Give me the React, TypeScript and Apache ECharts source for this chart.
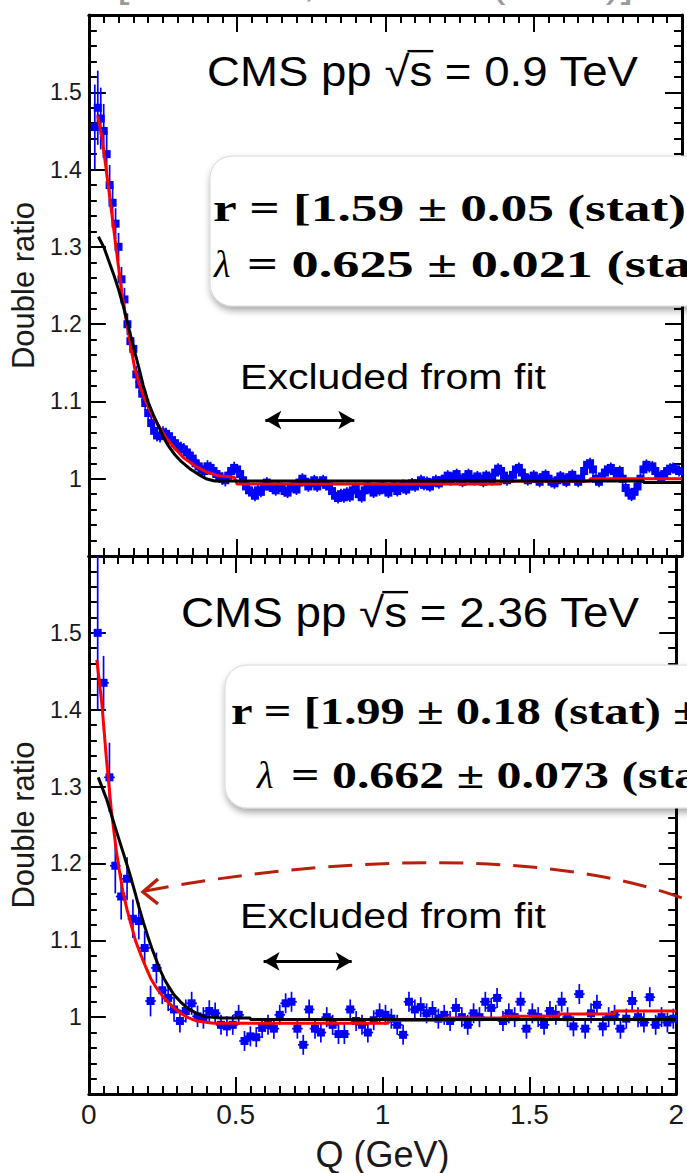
import React, { useEffect, useRef } from 'react';
import * as echarts from 'echarts';

// ---------- data ----------
const topQStart = 0.02;
const topQStep = 0.01;
const topRatio = [
  1.455, 1.48, 1.466, 1.45, 1.42, 1.38, 1.357, 1.33,
  1.30, 1.258, 1.232, 1.2, 1.178, 1.168, 1.135, 1.122, 1.11, 1.098,
  1.085, 1.072, 1.062, 1.056, 1.055, 1.06, 1.058, 1.055, 1.05, 1.046,
  1.042, 1.04, 1.038, 1.034, 1.03, 1.026, 1.02, 1.016, 1.012, 1.01,
  1.016, 1.014, 1.01, 1.006, 1.003, 1.0, 0.998, 1.004, 1.01, 1.014,
  1.012, 1.006, 0.998, 0.99, 0.985, 0.982, 0.978, 0.985, 0.983, 0.99,
  0.995, 0.99, 0.988, 0.985, 0.99, 0.988, 0.984, 0.982, 0.988, 0.99,
  0.986, 0.995, 1.0, 0.996, 0.99, 0.994, 0.998, 0.99, 0.995, 0.998,
  0.992, 0.99, 0.984, 0.978, 0.975, 0.98, 0.976, 0.982, 0.977, 0.985,
  0.988, 0.98, 0.976, 0.985, 0.99, 0.986, 0.982, 0.988, 0.985, 0.99,
  0.986, 0.982, 0.988, 0.99, 0.984, 0.988, 0.992, 0.986, 0.99, 0.994,
  0.99, 0.994, 0.998, 0.992, 0.996, 0.99, 0.995, 0.998, 0.994, 0.998,
  1.0, 1.004, 0.998, 1.003, 1.006, 1.0, 0.996, 1.002, 1.006, 1.0,
  0.998, 1.003, 1.0, 0.996, 1.004, 1.002, 0.998, 1.008, 1.013, 1.01,
  1.004, 0.998, 1.0, 1.005, 1.012, 1.014, 1.008, 1.002, 0.998, 1.0,
  1.004, 1.0, 0.996, 1.002, 1.005, 1.0, 0.996, 0.994, 0.998, 1.003,
  1.0, 0.996, 1.002, 1.005, 1.0, 0.996, 1.0, 1.01, 1.018, 1.02,
  1.012, 1.0, 0.996, 1.003, 1.008, 1.012, 1.014, 1.01, 1.006, 1.01,
  1.0, 0.988, 0.982, 0.978, 0.983, 0.99, 1.0, 1.012, 1.018, 1.015,
  1.016, 1.01, 1.004, 1.0, 1.006, 1.01, 1.013, 1.014, 1.012, 1.01,
];
const topErr = [
  0.055, 0.048, 0.04, 0.035, 0.03, 0.026, 0.022, 0.02,
  0.018, 0.016, 0.015, 0.014, 0.013, 0.012, 0.011, 0.011, 0.01, 0.01,
  0.009, 0.009, 0.009, 0.008, 0.008, 0.008, 0.008, 0.008, 0.008, 0.008,
  0.008, 0.008, 0.008, 0.008, 0.008, 0.008, 0.008, 0.008, 0.008, 0.008,
  0.008, 0.008, 0.008, 0.008, 0.008, 0.008, 0.008, 0.008, 0.008, 0.008,
  0.007, 0.007, 0.007, 0.007, 0.007, 0.007, 0.007, 0.007, 0.007, 0.007,
  0.007, 0.007, 0.007, 0.007, 0.007, 0.007, 0.007, 0.007, 0.007, 0.007,
  0.007, 0.007, 0.007, 0.007, 0.007, 0.007, 0.007, 0.007, 0.007, 0.007,
  0.007, 0.007, 0.007, 0.007, 0.007, 0.007, 0.007, 0.007, 0.007, 0.007,
  0.007, 0.007, 0.007, 0.007, 0.007, 0.007, 0.007, 0.007, 0.007, 0.007,
  0.007, 0.007, 0.007, 0.007, 0.007, 0.007, 0.007, 0.007, 0.007, 0.007,
  0.007, 0.007, 0.007, 0.007, 0.007, 0.007, 0.007, 0.007, 0.007, 0.007,
  0.007, 0.007, 0.007, 0.007, 0.007, 0.007, 0.007, 0.007, 0.007, 0.007,
  0.007, 0.007, 0.007, 0.007, 0.007, 0.007, 0.007, 0.007, 0.007, 0.007,
  0.007, 0.007, 0.007, 0.007, 0.007, 0.007, 0.007, 0.007, 0.007, 0.007,
  0.007, 0.007, 0.007, 0.007, 0.007, 0.007, 0.007, 0.007, 0.007, 0.007,
  0.007, 0.007, 0.007, 0.007, 0.007, 0.007, 0.007, 0.007, 0.007, 0.007,
  0.007, 0.007, 0.007, 0.007, 0.007, 0.007, 0.007, 0.007, 0.007, 0.007,
  0.007, 0.007, 0.007, 0.007, 0.007, 0.007, 0.007, 0.007, 0.007, 0.007,
  0.007, 0.007, 0.007, 0.007, 0.007, 0.007, 0.007, 0.007, 0.007, 0.007,
];
const topHalfBin = 0.006;

const botQStart = 0.03;
const botQStep = 0.02;
const botRatio = [
  1.5, 1.435, 1.312, 1.197, 1.157, 1.18, 1.128, 1.125, 1.09, 1.021,
  1.064, 1.035, 1.025, 1.01, 0.995, 1.008, 1.018, 1.001, 0.999, 1.008,
  1.005, 0.99, 0.988, 0.99, 1.003, 0.969, 0.975, 0.974, 0.986, 0.99,
  0.985, 1.003, 1.018, 1.02, 0.985, 0.964, 1.01, 0.985, 0.98, 1.0,
  0.99, 0.978, 0.978, 1.01, 0.995, 0.99, 0.98, 0.996, 1.005, 1.003,
  0.998, 0.99, 0.977, 1.02, 1.01, 1.013, 1.005, 1.008, 0.998, 1.003,
  0.995, 1.012, 1.0, 0.99, 1.005, 1.0, 1.02, 1.012, 1.025, 0.995,
  1.005, 1.0, 1.02, 0.985, 1.005, 1.0, 0.99, 1.008, 1.003, 1.02,
  1.0, 0.988, 1.03, 0.985, 1.005, 1.016, 0.988, 1.0, 1.003, 0.985,
  0.998, 1.021, 1.0, 0.993, 1.026, 0.99, 1.0, 0.993, 0.998,
];
const botErr = [
  0.1, 0.035, 0.045, 0.036, 0.03, 0.028, 0.025, 0.024, 0.022, 0.02,
  0.02, 0.018, 0.017, 0.016, 0.015, 0.015, 0.015, 0.014, 0.014, 0.014,
  0.014, 0.013, 0.013, 0.013, 0.013, 0.013, 0.013, 0.013, 0.013, 0.013,
  0.013, 0.013, 0.013, 0.013, 0.013, 0.013, 0.013, 0.013, 0.013, 0.013,
  0.013, 0.013, 0.013, 0.013, 0.013, 0.013, 0.013, 0.013, 0.013, 0.013,
  0.013, 0.013, 0.013, 0.013, 0.013, 0.013, 0.013, 0.013, 0.013, 0.013,
  0.013, 0.013, 0.013, 0.013, 0.013, 0.013, 0.013, 0.013, 0.013, 0.013,
  0.013, 0.013, 0.013, 0.013, 0.013, 0.013, 0.013, 0.013, 0.013, 0.013,
  0.013, 0.013, 0.013, 0.013, 0.013, 0.013, 0.013, 0.013, 0.013, 0.013,
  0.013, 0.013, 0.013, 0.013, 0.013, 0.013, 0.013, 0.013, 0.013,
];
const botHalfBin = 0.018;

// fitted curves (red: exponential, black: Gaussian)
const topExpFit = [
  [0.03, 1.47], [0.044, 1.442], [0.055, 1.41], [0.066, 1.378], [0.077, 1.344],
  [0.088, 1.31], [0.1, 1.274], [0.111, 1.241], [0.122, 1.214], [0.133, 1.19],
  [0.144, 1.165], [0.155, 1.142], [0.172, 1.12], [0.189, 1.103], [0.21, 1.085],
  [0.234, 1.069], [0.26, 1.053], [0.29, 1.039], [0.32, 1.027], [0.356, 1.017],
  [0.395, 1.009], [0.435, 1.004], [0.49, 1.002], [0.5, 0.993], [1.39, 0.993],
  [1.39, 0.997], [1.69, 0.997], [1.69, 1.0], [2.0, 1.0],
];
const topGausFit = [
  [0.032, 1.313], [0.05, 1.3], [0.066, 1.283], [0.083, 1.265], [0.1, 1.245],
  [0.117, 1.222], [0.133, 1.197], [0.15, 1.171], [0.167, 1.146], [0.183, 1.121],
  [0.2, 1.099], [0.217, 1.083], [0.234, 1.069], [0.25, 1.055], [0.267, 1.043],
  [0.29, 1.031], [0.312, 1.022], [0.34, 1.013], [0.368, 1.006], [0.395, 1.0],
  [0.424, 0.997], [1.87, 0.997], [1.87, 0.995], [2.0, 0.995],
];
const botExpFit = [
  [0.027, 1.465], [0.044, 1.409], [0.06, 1.335], [0.077, 1.267], [0.094, 1.215],
  [0.105, 1.188], [0.116, 1.163], [0.13, 1.14], [0.144, 1.12], [0.16, 1.098],
  [0.178, 1.08], [0.195, 1.064], [0.211, 1.05], [0.232, 1.037], [0.256, 1.025],
  [0.284, 1.014], [0.312, 1.005], [0.34, 0.999], [0.368, 0.995], [0.424, 0.992],
  [1.02, 0.992], [1.02, 0.996], [1.21, 0.996], [1.21, 0.999], [1.41, 0.999],
  [1.41, 1.001], [1.6, 1.001], [1.6, 1.004], [1.79, 1.004], [1.79, 1.008], [2.0, 1.008],
];
const botGausFit = [
  [0.032, 1.312], [0.046, 1.298], [0.06, 1.284], [0.074, 1.267], [0.088, 1.249],
  [0.102, 1.232], [0.116, 1.215], [0.13, 1.198], [0.144, 1.18], [0.158, 1.161],
  [0.172, 1.141], [0.186, 1.123], [0.2, 1.106], [0.214, 1.09], [0.228, 1.076],
  [0.242, 1.062], [0.256, 1.05], [0.273, 1.039], [0.29, 1.029], [0.312, 1.02],
  [0.335, 1.012], [0.362, 1.006], [0.39, 1.001], [0.446, 0.999], [0.55, 0.999],
  [0.55, 0.997], [2.0, 0.997],
];

const excludedQ = [0.595, 0.895];
const topArrowRatio = 1.076;
const botArrowRatio = 1.0725;

const xTickLabels = ['0', '0.5', '1', '1.5', '2'];
const yTickLabels = ['1', '1.1', '1.2', '1.3', '1.4', '1.5'];

const topTitle = 'CMS pp √s = 0.9 TeV';
const botTitle = 'CMS pp √s = 2.36 TeV';
const topBox = ['r = [1.59 ± 0.05 (stat) ±', '= 0.625 ± 0.021 (stat'];
const botBox = ['r = [1.99 ± 0.18 (stat) ±', '= 0.662 ± 0.073 (sta'];

// ---------- helpers ----------
const SANS = 'Liberation Sans';
const SERIF = 'Liberation Serif';

let measureCtx: CanvasRenderingContext2D | null = null;
function measure(text: string, font: string): number {
  if (!measureCtx) measureCtx = document.createElement('canvas').getContext('2d');
  measureCtx!.font = font;
  return measureCtx!.measureText(text).width;
}

function makeText(
  text: string,
  x: number,
  baseline: number,
  fs: number,
  family: string,
  opt: { weight?: string; fstyle?: string; color?: string; fitPrefix?: string; fitWidth?: number } = {}
) {
  const weight = opt.weight || 'normal';
  const fstyle = opt.fstyle || 'normal';
  const font = `${fstyle} ${weight} ${fs}px "${family}"`;
  let sx = 1;
  if (opt.fitWidth) sx = opt.fitWidth / measure(opt.fitPrefix || text, font);
  const k = family === SERIF ? 0.3375 : 0.3465;
  return {
    el: {
      type: 'text',
      x,
      y: baseline - k * fs,
      scaleX: sx,
      z: 100,
      silent: true,
      style: {
        text,
        fontSize: fs,
        fontFamily: family,
        fontWeight: weight,
        fontStyle: fstyle,
        fill: opt.color || '#000',
        align: 'left',
        verticalAlign: 'middle',
      },
    },
    sx,
    font,
  };
}

const seq = (start: number, step: number, n: number) =>
  Array.from({ length: n }, (_, i) => +(start + i * step).toFixed(3));

function errRender(size: number) {
  return (params: any, api: any) => {
    const q = api.value(0);
    const v = api.value(1);
    const e = api.value(2);
    const h = api.value(3);
    const c = api.coord([q, v]);
    const t = api.coord([q, v + e]);
    const b = api.coord([q, v - e]);
    const l = api.coord([q - h, v]);
    const r = api.coord([q + h, v]);
    const st = { stroke: '#0000ff', lineWidth: 1.7 };
    return {
      type: 'group',
      children: [
        { type: 'line', shape: { x1: t[0], y1: t[1], x2: b[0], y2: b[1] }, style: st },
        { type: 'line', shape: { x1: l[0], y1: l[1], x2: r[0], y2: r[1] }, style: st },
        {
          type: 'rect',
          shape: { x: c[0] - size / 2, y: c[1] - size / 2, width: size, height: size },
          style: { fill: '#0000ff' },
        },
      ],
    };
  };
}

const App: React.FC = () => {
  const ref = useRef<HTMLDivElement>(null);

  useEffect(() => {
    document.body.style.margin = '0';
    const chart = echarts.init(ref.current!, null, { renderer: 'svg' });

    const topQ = seq(topQStart, topQStep, topRatio.length);
    const botQ = seq(botQStart, botQStep, botRatio.length);
    const topData = topRatio.map((v, i) => [topQ[i], v, topErr[i], topHalfBin]);
    const botData = botRatio.map((v, i) => [botQ[i], v, botErr[i], botHalfBin]);

    const tickStyle = { color: '#000', width: 2 };
    const mkX = (gridIndex: number, position: string, label: boolean) => ({
      type: 'value',
      gridIndex,
      position,
      min: 0,
      max: 2,
      interval: 0.5,
      axisLine: { show: true, onZero: false, lineStyle: { color: '#000', width: 3 } },
      axisTick: { show: true, inside: true, length: 17, lineStyle: tickStyle },
      minorTick: { show: true, splitNumber: 10, length: 8, lineStyle: tickStyle },
      splitLine: { show: false },
      minorSplitLine: { show: false },
      axisLabel: {
        show: label,
        margin: 6,
        fontSize: 28,
        fontFamily: SANS,
        color: '#1a1a1a',
        formatter: (v: number) => xTickLabels[Math.round(v / 0.5)] ?? '',
      },
      name: label ? 'Q (GeV)' : '',
      nameLocation: 'middle',
      nameGap: 42,
      nameTextStyle: { fontSize: 36, fontFamily: SANS, color: '#1a1a1a' },
    });
    const mkY = (gridIndex: number, position: string, label: boolean) => ({
      type: 'value',
      gridIndex,
      position,
      min: 0.9,
      max: 1.6,
      interval: 0.1,
      axisLine: { show: true, onZero: false, lineStyle: { color: '#000', width: 3 } },
      axisTick: { show: true, inside: true, length: 17, lineStyle: tickStyle },
      minorTick: { show: true, splitNumber: 5, length: 8, lineStyle: tickStyle },
      splitLine: { show: false },
      minorSplitLine: { show: false },
      axisLabel: {
        show: label,
        margin: 7,
        fontSize: 23,
        fontFamily: SANS,
        color: '#1a1a1a',
        formatter: (v: number) => {
          const idx = Math.round((v - 1) / 0.1);
          return idx >= 0 && idx < yTickLabels.length ? yTickLabels[idx] : '';
        },
      },
      name: label ? 'Double ratio' : '',
      nameLocation: 'middle',
      nameGap: 46,
      nameTextStyle: { fontSize: 31, fontFamily: SANS, color: '#1a1a1a' },
    });

    const arrowMark = (y: number) => ({
      silent: true,
      symbol: ['arrow', 'arrow'],
      symbolSize: [14, 16],
      label: { show: false },
      emphasis: { disabled: true },
      lineStyle: { color: '#000', width: 3, type: 'solid' },
      data: [[{ coord: [excludedQ[0], y] }, { coord: [excludedQ[1], y] }]],
    });

    const lineSeries = (data: number[][], color: string, xi: number, mark?: any) => ({
      type: 'line',
      data,
      xAxisIndex: xi,
      yAxisIndex: xi,
      showSymbol: false,
      symbol: 'none',
      smooth: false,
      clip: true,
      z: 5,
      lineStyle: { color, width: 3 },
      markLine: mark,
    });

    // ---------- graphic annotations ----------
    const g: any[] = [];
    // clipped reference line at the very top (only descenders show)
    g.push(makeText('[PRL 105, 032001 (2010)]', 117, -3.5, 45, SANS, { color: '#9a9a9a' }).el);

    // titles with sqrt overbar
    const title = (text: string, x: number, baseline: number, width: number) => {
      const fs = 42;
      const t = makeText(text, x, baseline, fs, SANS, { fitWidth: width });
      g.push(t.el);
      const w1 = measure('CMS pp √', t.font) * t.sx;
      const w2 = measure('CMS pp √s', t.font) * t.sx;
      const yb = baseline - 0.83 * fs;
      g.push({
        type: 'line',
        z: 100,
        silent: true,
        shape: { x1: x + w1 - 2, y1: yb, x2: x + w2 + 1, y2: yb },
        style: { stroke: '#000', lineWidth: 2.4 },
      });
    };
    title(topTitle, 207, 86, 432);
    title(botTitle, 181, 627, 459);

    // rounded boxes
    const box = (x: number, y: number, w: number, h: number) => ({
      type: 'rect',
      z: 90,
      silent: true,
      shape: { x, y, width: w, height: h, r: 22 },
      style: {
        fill: '#ffffff',
        stroke: '#d6d6d6',
        lineWidth: 1,
        shadowBlur: 7,
        shadowOffsetX: 1,
        shadowOffsetY: 4,
        shadowColor: 'rgba(0,0,0,0.35)',
      },
    });
    g.push(box(210, 156, 560, 150));
    g.push(box(225, 665, 540, 143));

    const boxFs = 38;
    // top box
    g.push(
      makeText(topBox[0], 213, 221, boxFs, SERIF, {
        weight: 'bold',
        fitPrefix: 'r = [1.59 ± 0.05 (stat)',
        fitWidth: 474,
      }).el
    );
    g.push(makeText('λ', 214, 277, boxFs, SERIF, { fstyle: 'italic' }).el);
    g.push(
      makeText(topBox[1], 247, 277, boxFs, SERIF, {
        weight: 'bold',
        fitPrefix: '= 0.625 ± 0.021',
        fitWidth: 346,
      }).el
    );
    // bottom box
    g.push(
      makeText(botBox[0], 231, 724, boxFs, SERIF, {
        weight: 'bold',
        fitPrefix: 'r = [1.99 ± 0.18 (stat)',
        fitWidth: 431,
      }).el
    );
    g.push(makeText('λ', 257, 788, boxFs, SERIF, { fstyle: 'italic' }).el);
    g.push(
      makeText(botBox[1], 291, 788, boxFs, SERIF, {
        weight: 'bold',
        fitPrefix: '= 0.662 ± 0.073',
        fitWidth: 318,
      }).el
    );

    // "Excluded from fit"
    g.push(makeText('Excluded from fit', 240, 389, 35, SANS, { fitWidth: 306 }).el);
    g.push(makeText('Excluded from fit', 240, 928, 35, SANS, { fitWidth: 306 }).el);

    // dashed annotation arrow (bottom panel)
    const dashColor = '#b8200e';
    g.push({
      type: 'bezierCurve',
      z: 95,
      silent: true,
      shape: { x1: 145, y1: 891, cpx1: 330, cpy1: 856, cpx2: 560, cpy2: 846, x2: 700, y2: 905 },
      style: { stroke: dashColor, lineWidth: 3, lineDash: [24, 13], fill: 'none' },
    });
    g.push({
      type: 'polyline',
      z: 95,
      silent: true,
      shape: { points: [[158, 879], [143, 892], [158, 904]] },
      style: { stroke: dashColor, lineWidth: 3.5, fill: 'none' },
    });

    const option: any = {
      animation: false,
      backgroundColor: '#ffffff',
      grid: [
        { left: 88, top: 15, width: 594, height: 541 },
        { left: 88, top: 556, width: 594, height: 540 },
      ],
      xAxis: [mkX(0, 'bottom', false), mkX(0, 'top', false), mkX(1, 'bottom', true), mkX(1, 'top', false)],
      yAxis: [mkY(0, 'left', true), mkY(0, 'right', false), mkY(1, 'left', true), mkY(1, 'right', false)],
      series: [
        {
          type: 'custom',
          xAxisIndex: 0,
          yAxisIndex: 0,
          clip: true,
          z: 3,
          renderItem: errRender(8),
          encode: { x: 0, y: 1 },
          data: topData,
        },
        lineSeries(topExpFit, '#ff0000', 0),
        lineSeries(topGausFit, '#000000', 0, arrowMark(topArrowRatio)),
        {
          type: 'custom',
          xAxisIndex: 2,
          yAxisIndex: 2,
          clip: true,
          z: 3,
          renderItem: errRender(8),
          encode: { x: 0, y: 1 },
          data: botData,
        },
        lineSeries(botExpFit, '#ff0000', 2),
        lineSeries(botGausFit, '#000000', 2, arrowMark(botArrowRatio)),
      ],
      graphic: { elements: g },
    };
    chart.setOption(option);
    return () => chart.dispose();
  }, []);

  return <div ref={ref} style={{ width: 687, height: 1173, background: '#fff' }} />;
};

export default App;
